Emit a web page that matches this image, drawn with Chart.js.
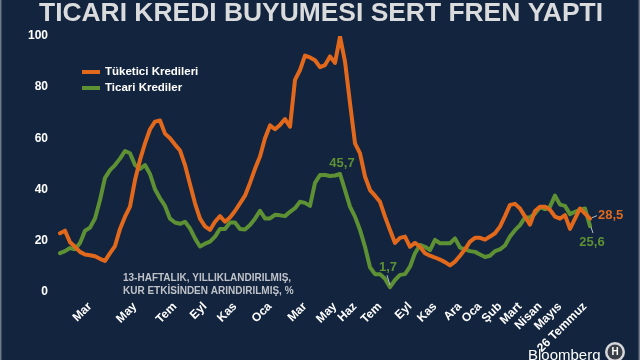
<!DOCTYPE html>
<html>
<head>
<meta charset="utf-8">
<script src="https://cdn.jsdelivr.net/npm/chart.js@4.4.1/dist/chart.umd.min.js"></script>
<style>
  html, body { margin: 0; padding: 0; background: #13243e; }
  #wrap { position: relative; width: 640px; height: 360px; overflow: hidden; }
</style>
</head>
<body>
<div id="wrap"><canvas id="chart" width="640" height="360"></canvas></div>
<script>
// Weekly points, oldest first
const consumer = [
  22.8, 23.8, 19.3, 17.5, 15.5, 14.5, 14.2, 13.8, 12.8, 12.0,
  15.0, 17.8, 24.5, 29.3, 33.2, 43.6, 51.5, 58.0, 63.5, 66.5,
  66.9, 61.8, 60.0, 57.5, 55.2, 49.5, 42.0, 34.5, 28.5, 25.5,
  24.1, 27.3, 29.5, 27.3, 29.0, 31.5, 34.5, 37.5, 42.5, 48.0,
  52.8, 60.0, 65.0, 63.5, 65.2, 67.5, 64.5, 82.8, 86.7, 92.3,
  91.6, 90.5, 87.8, 88.6, 92.0, 89.5, 99.8, 90.0, 73.8, 58.0,
  54.1, 45.0, 39.7, 37.5, 35.1, 29.3, 24.1, 19.0, 21.0, 21.5,
  17.5, 19.0, 17.5, 15.0, 14.0, 13.3, 12.5, 11.5, 10.2, 11.7,
  14.0, 16.5, 19.5, 21.0, 21.0, 20.3, 21.5, 22.8, 25.4, 29.5,
  33.9, 34.3, 32.5, 29.3, 26.2, 31.5, 33.2, 33.2, 32.0, 29.3,
  28.5, 29.9, 24.5, 28.5, 32.5, 30.5, 28.5
];
const commercial = [
  15.0, 15.8, 17.0, 16.5, 19.0, 23.8, 25.0, 28.6, 35.8, 44.5,
  47.5, 49.5, 52.0, 55.0, 54.1, 49.5, 48.0, 49.5, 46.0, 40.0,
  36.5, 33.5, 28.5, 27.0, 26.5, 27.3, 24.7, 20.8, 17.6, 18.7,
  19.5, 21.5, 24.5, 24.5, 27.0, 27.0, 24.5, 24.3, 26.0, 28.5,
  31.6, 28.6, 28.6, 30.0, 29.8, 29.5, 31.2, 32.6, 35.1, 34.7,
  33.5, 42.5, 45.6, 45.6, 45.2, 45.4, 46.0, 39.7, 33.2, 29.3,
  24.1, 17.5, 9.5, 6.8, 6.8, 5.0, 1.7, 4.5, 6.5, 6.8,
  9.7, 15.0, 18.2, 17.5, 16.2, 20.2, 18.9, 18.9, 18.9, 20.8,
  17.2, 16.5, 15.8, 15.5, 14.5, 13.5, 14.0, 15.8, 16.5, 18.0,
  21.5, 24.0, 26.0, 29.0, 29.0, 30.5, 33.0, 32.2, 33.2, 37.5,
  34.0, 33.5, 30.3, 31.2, 32.0, 32.5, 25.6
];

// month labels and the week they sit on
const tickNames = ["Mar", "May", "Tem", "Eyl", "Kas", "Oca", "Mar", "May", "Haz", "Tem",
  "Eyl", "Kas", "Ara", "Oca", "Şub", "Mart", "Nisan", "Mayıs", "26 Temmuz"];
const tickWeeks = [6, 15, 23, 29, 35, 42, 49, 55, 59, 64, 70, 75, 80, 84, 88, 92, 96, 100, 105];

const yTicks = [0, 20, 40, 60, 80, 100];

const labels = consumer.map((v, i) => {
  const k = tickWeeks.indexOf(i);
  return k >= 0 ? tickNames[k] : "";
});

const ORANGE = "#e2691c";
const GREEN = "#5e9134";
const BOLD = "'Liberation Sans', Arial, sans-serif";

const decor = {
  id: "decor",
  afterDraw(chart) {
    const c = chart.ctx;
    const xs = chart.scales.x, ys = chart.scales.y;
    c.save();

    // title, stretched to the width of the original heading
    const title = "TICARI KREDI BUYUMESI SERT FREN YAPTI";
    c.font = "bold 25px " + BOLD;
    const tw = c.measureText(title).width;
    c.save();
    c.translate(321, 21);
    c.scale(564 / tw, 1);
    c.fillStyle = "#dadbdd";
    c.textAlign = "center";
    c.textBaseline = "alphabetic";
    c.fillText(title, 0, 0);
    c.restore();

    // legend
    c.lineWidth = 4;
    c.lineCap = "butt";
    c.strokeStyle = ORANGE;
    c.beginPath(); c.moveTo(82, 72); c.lineTo(100, 72); c.stroke();
    c.strokeStyle = GREEN;
    c.beginPath(); c.moveTo(82, 88); c.lineTo(100, 88); c.stroke();
    c.fillStyle = "#ffffff";
    c.font = "bold 11.5px " + BOLD;
    c.textAlign = "left";
    c.textBaseline = "middle";
    c.fillText("Tüketici Kredileri", 105, 72);
    c.fillText("Ticari Krediler", 105, 88);

    // note
    c.fillStyle = "#bfc3c9";
    c.font = "bold 10px " + BOLD;
    c.fillText("13-HAFTALIK, YILLIKLANDIRILMIŞ,", 123, 278);
    c.fillText("KUR ETKİSİNDEN ARINDIRILMIŞ, %", 123, 291);

    // value callouts
    const last = consumer.length - 1;
    const px = i => xs.getPixelForValue(i);
    c.font = "bold 13px " + BOLD;
    c.textAlign = "center";
    c.fillStyle = GREEN;
    const iMax = 56;
    c.fillText("45,7", px(iMax) + 2, ys.getPixelForValue(commercial[iMax]) - 11);
    const iMin = 66;
    c.fillText("1,7", px(iMin) - 2, ys.getPixelForValue(commercial[iMin]) - 20);
    c.strokeStyle = "#b8bec6";
    c.lineWidth = 1;
    c.beginPath();
    c.moveTo(px(iMin) - 3, ys.getPixelForValue(commercial[iMin]) - 12);
    c.lineTo(px(iMin), ys.getPixelForValue(commercial[iMin]) - 2);
    c.stroke();

    const ex = px(last);
    c.beginPath();
    c.moveTo(ex + 2, ys.getPixelForValue(consumer[last]) - 1);
    c.lineTo(ex + 7, ys.getPixelForValue(consumer[last]) - 3);
    c.stroke();
    c.beginPath();
    c.moveTo(ex + 1, ys.getPixelForValue(commercial[last]) + 1);
    c.lineTo(ex + 3, ys.getPixelForValue(commercial[last]) + 7);
    c.stroke();

    c.textAlign = "left";
    c.fillStyle = ORANGE;
    c.fillText("28,5", ex + 8, ys.getPixelForValue(consumer[last]) - 3);
    c.textAlign = "center";
    c.fillStyle = GREEN;
    c.fillText("25,6", ex + 2, ys.getPixelForValue(commercial[last]) + 16);

    // source mark
    c.fillStyle = "#ffffff";
    c.font = "15px " + BOLD;
    c.textAlign = "left";
    c.textBaseline = "alphabetic";
    c.fillText("Bloomberg", 528, 360);
    c.beginPath();
    c.arc(615, 352, 10, 0, Math.PI * 2);
    c.fillStyle = "#d5d7da";
    c.fill();
    c.beginPath();
    c.arc(615, 352, 7.5, 0, Math.PI * 2);
    c.fillStyle = "#3a3f47";
    c.fill();
    c.fillStyle = "#ffffff";
    c.font = "bold 10px " + BOLD;
    c.textAlign = "center";
    c.textBaseline = "middle";
    c.fillText("H", 615, 352);

    // edge strips
    c.fillStyle = "#6f7986";
    c.fillRect(0, 0, 1.5, 360);
    c.fillRect(638.5, 0, 1.5, 360);
    c.restore();
  }
};

new Chart(document.getElementById("chart"), {
  type: "line",
  data: {
    labels: labels,
    datasets: [
      { label: "Tüketici Kredileri", data: consumer, borderColor: ORANGE, borderWidth: 4,
        pointRadius: 0, tension: 0, borderJoinStyle: "round", borderCapStyle: "round" },
      { label: "Ticari Krediler", data: commercial, borderColor: GREEN, borderWidth: 4,
        pointRadius: 0, tension: 0, borderJoinStyle: "round", borderCapStyle: "round" }
    ]
  },
  options: {
    responsive: false,
    animation: false,
    events: [],
    layout: { padding: { left: 0, right: 50, top: 36, bottom: 0 } },
    plugins: { legend: { display: false }, tooltip: { enabled: false }, title: { display: false } },
    scales: {
      x: {
        grid: { display: false, drawTicks: false },
        border: { display: false },
        afterFit: s => { s.height = 68.5; },
        ticks: {
          autoSkip: false,
          minRotation: 45,
          maxRotation: 45,
          padding: 8,
          color: "#ffffff",
          font: { family: BOLD, size: 12, weight: "bold" }
        }
      },
      y: {
        min: 0,
        max: 100,
        grid: { display: false, drawTicks: false },
        border: { display: false },
        afterFit: s => { s.width = 60; },
        afterBuildTicks: s => { s.ticks = yTicks.map(v => ({ value: v })); },
        ticks: {
          padding: 12,
          color: "#ffffff",
          font: { family: BOLD, size: 12, weight: "bold" }
        }
      }
    }
  },
  plugins: [decor]
});
</script>
</body>
</html>
